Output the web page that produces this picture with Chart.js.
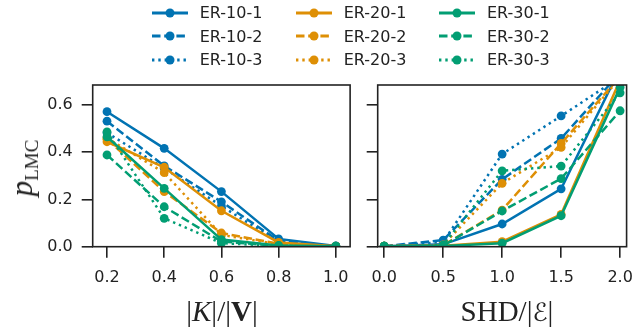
<!DOCTYPE html>
<html><head><meta charset="utf-8">
<script src="https://cdn.jsdelivr.net/npm/chart.js@4/dist/chart.umd.min.js"></script>
<style>
html,body{margin:0;padding:0;background:#fff;}
#wrap{position:relative;width:644px;height:335px;overflow:hidden;font-family:'DejaVu Sans',sans-serif;color:#222;}
canvas{position:absolute;top:0;}
.lg{position:absolute;height:20px;display:flex;align-items:center;font-size:16px;white-space:nowrap;}
.lg svg{margin-right:12px;}
.xl{position:absolute;font-family:'Liberation Serif','DejaVu Serif',serif;font-size:29px;white-space:nowrap;transform:translate(-50%,-50%);}
</style></head><body>
<div id="wrap">
<canvas id="c1" width="360" height="300" style="left:0;width:360px;height:300px"></canvas>
<canvas id="c2" width="284" height="300" style="left:360px;width:284px;height:300px"></canvas>
<div id="legend"></div>
<div id="ylab" style="position:absolute;left:22px;top:168px;transform:translate(-50%,-50%) rotate(-90deg);white-space:nowrap;font-family:'Liberation Serif','DejaVu Serif',serif;font-size:31px;"><i>p</i><span style="font-size:19px;position:relative;top:0.3em;">LMC</span></div>
<div class="xl" style="left:222px;top:311px;">|<i>K</i>|/|<b>V</b>|</div>
<div class="xl" style="left:507px;top:311px;">SHD/|<span style="font-family:'DejaVu Sans',sans-serif;font-size:25px;">ℰ</span>|</div>
</div>
<script>
// ---- data ----
const seriesNames = ['ER-10-1','ER-10-2','ER-10-3','ER-20-1','ER-20-2','ER-20-3','ER-30-1','ER-30-2','ER-30-3'];
const xK = [0.2, 0.4, 0.6, 0.8, 1.0];
const xSHD = [0.0, 0.5, 1.0, 1.5, 2.0];
const yTicks = [0.0, 0.2, 0.4, 0.6];

// p_LMC vs |K|/|V|
const kER10_1 = [0.571, 0.416, 0.233, 0.033, 0.003];
const kER10_2 = [0.531, 0.342, 0.190, 0.025, 0.002];
const kER10_3 = [0.482, 0.332, 0.172, 0.020, 0.002];
const kER20_1 = [0.444, 0.336, 0.152, 0.018, 0.002];
const kER20_2 = [0.455, 0.233, 0.058, 0.012, 0.001];
const kER20_3 = [0.460, 0.313, 0.050, 0.010, 0.001];
const kER30_1 = [0.465, 0.247, 0.030, 0.005, 0.002];
const kER30_2 = [0.388, 0.169, 0.022, 0.003, 0.001];
const kER30_3 = [0.486, 0.120, 0.015, 0.003, 0.001];

// p_LMC vs SHD/|E|
const sER10_1 = [0.002, 0.010, 0.096, 0.245, 0.755];
const sER10_2 = [0.002, 0.028, 0.285, 0.458, 0.735];
const sER10_3 = [0.002, 0.020, 0.392, 0.553, 0.717];
const sER20_1 = [0.002, 0.004, 0.021, 0.137, 0.705];
const sER20_2 = [0.002, 0.006, 0.155, 0.437, 0.720];
const sER20_3 = [0.002, 0.008, 0.268, 0.420, 0.715];
const sER30_1 = [0.002, 0.003, 0.015, 0.131, 0.674];
const sER30_2 = [0.002, 0.005, 0.151, 0.288, 0.575];
const sER30_3 = [0.002, 0.007, 0.321, 0.341, 0.651];

// ---- styles ----
const colors = ['#0173b2','#0173b2','#0173b2','#de8f05','#de8f05','#de8f05','#029e73','#029e73','#029e73'];
const dashes = [[], [8.5,3.7], [2.4,3.9], [], [8.5,3.7], [2.4,3.9], [], [8.5,3.7], [2.4,3.9]];
const kSeries = [kER10_1,kER10_2,kER10_3,kER20_1,kER20_2,kER20_3,kER30_1,kER30_2,kER30_3];
const sSeries = [sER10_1,sER10_2,sER10_3,sER20_1,sER20_2,sER20_3,sER30_1,sER30_2,sER30_3];
const INK = '#222';

Chart.defaults.font.family = "'DejaVu Sans', sans-serif";
Chart.defaults.font.size = 16;
Chart.defaults.color = INK;

function datasets(xs, ys) {
  return ys.map((arr, i) => ({
    label: seriesNames[i],
    data: xs.map((x, j) => ({x: x, y: arr[j]})),
    borderColor: colors[i], backgroundColor: colors[i],
    pointBackgroundColor: colors[i], pointBorderColor: colors[i],
    borderWidth: 2.5, borderDash: dashes[i], pointRadius: 4.4, pointBorderWidth: 0,
    tension: 0, clip: 0, order: ys.length - 1 - i
  }));
}

const boxPlugin = {
  id: 'box',
  afterDraw(chart) {
    const a = chart.chartArea, ctx = chart.ctx;
    ctx.save();
    ctx.strokeStyle = INK; ctx.lineWidth = 1.6;
    ctx.strokeRect(a.left, a.top, a.right - a.left, a.bottom - a.top);
    ctx.restore();
  }
};

function makeChart(id, xs, ys, xmin, xmax, yAxisWidth, padRight, showY) {
  return new Chart(document.getElementById(id), {
    type: 'line',
    data: { datasets: datasets(xs, ys) },
    options: {
      responsive: false, animation: false, devicePixelRatio: 1,
      layout: { padding: { top: 85, right: padRight, left: 0, bottom: 0 } },
      plugins: { legend: { display: false }, tooltip: { enabled: false } },
      scales: {
        x: {
          type: 'linear', min: xmin, max: xmax,
          afterBuildTicks: s => { s.ticks = xs.map(v => ({value: v})); },
          afterFit: s => { s.height = 53.3; },
          ticks: { callback: v => Number(v).toFixed(1), padding: 11, maxRotation: 0, autoSkip: false },
          grid: { drawOnChartArea: false, tickLength: 11, color: INK, lineWidth: 1.6 },
          border: { display: false }
        },
        y: {
          type: 'linear', min: 0, max: 0.684,
          afterBuildTicks: s => { s.ticks = yTicks.map(v => ({value: v})); },
          afterFit: s => { s.width = yAxisWidth; },
          ticks: { display: showY, callback: v => Number(v).toFixed(1), padding: 9 },
          grid: { drawOnChartArea: false, tickLength: 11, color: INK, lineWidth: 1.6 },
          border: { display: false }
        }
      }
    },
    plugins: [boxPlugin]
  });
}

makeChart('c1', xK, kSeries, 0.15, 1.05, 92.7, 8.3, true);
makeChart('c2', xSHD, sSeries, -0.055, 2.055, 17.7, 6.7, false);

// ---- legend ----
const lgCols = [151.7, 295.7, 439];
const lgRows = [12.5, 36, 59.5];
const lg = document.getElementById('legend');
seriesNames.forEach((name, i) => {
  const col = Math.floor(i / 3), row = i % 3;
  const d = document.createElement('div');
  d.className = 'lg';
  d.style.left = lgCols[col] + 'px';
  d.style.top = (lgRows[row] - 10) + 'px';
  const dash = dashes[i].length ? `stroke-dasharray="${dashes[i].join(' ')}"` : '';
  d.innerHTML = `<svg width="36" height="14" viewBox="0 0 36 14"><line x1="0" y1="7" x2="36" y2="7" stroke="${colors[i]}" stroke-width="2.8" ${dash}/><circle cx="18" cy="7" r="4.5" fill="${colors[i]}"/></svg><span>${name}</span>`;
  lg.appendChild(d);
});
</script>
</body></html>
